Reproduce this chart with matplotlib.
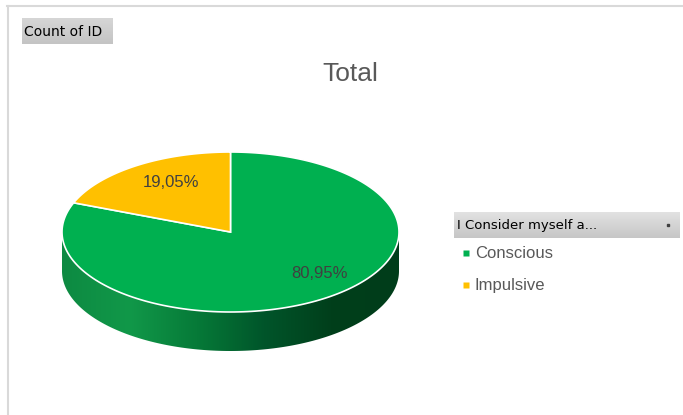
import numpy as np
import matplotlib.pyplot as plt
from matplotlib.patches import Polygon, Rectangle
from matplotlib.colors import LinearSegmentedColormap

# pivot data: count of ID by answer
categories = ["Conscious", "Impulsive"]
shares = [80.95, 19.05]
colors = ["#00B050", "#FFC000"]
value_labels = [f"{s:.2f}%".replace(".", ",") for s in shares]
label_pos = [(320, 273), (171, 182)]

plt.rcParams["font.family"] = ["Liberation Sans", "DejaVu Sans"]

fig = plt.figure(figsize=(6.83, 4.15), dpi=100)
ax = fig.add_axes([0, 0, 1, 1])

# ellipse geometry of the 3-D pie (pixels)
cx, cy, rx, ry, depth = 230.5, 232, 168.5, 80, 39


def rim(a0, a1, dy=0, n=200):
    t = np.radians(np.linspace(a0, a1, n))
    return np.column_stack([cx + rx * np.cos(t), cy + dy - ry * np.sin(t)])


# front wall with a left-to-right shading
wall = Polygon(np.vstack([rim(180, 360), rim(360, 180, dy=depth)]),
               closed=True, facecolor="none", edgecolor="none")
ax.add_patch(wall)
wall_cmap = LinearSegmentedColormap.from_list(
    "wall", ["#0d8a42", "#119849", "#067a38", "#00552a", "#003f1b", "#003d1a"])
im = ax.imshow(np.linspace(0, 1, 256)[None, :], cmap=wall_cmap,
               extent=[cx - rx, cx + rx, cy + ry + depth, cy],
               aspect="auto", zorder=1)
im.set_clip_path(wall)

# top face, slices running clockwise from 12 o'clock
a0 = 90
for share, col in zip(shares, colors):
    a1 = a0 - share * 3.6
    pts = np.vstack([[cx, cy], rim(a0, a1)])
    ax.add_patch(Polygon(pts, closed=True, facecolor=col, edgecolor="white",
                         linewidth=1.2, zorder=2))
    a0 = a1

for txt, (x, y) in zip(value_labels, label_pos):
    ax.text(x, y, txt, ha="center", va="center", fontsize=12,
            color="#404040", zorder=3)

ax.text(350, 74, "Total", ha="center", va="center", fontsize=19,
        color="#595959")

# chart area border
ax.plot([7, 683], [6, 6], color="#d9d9d9", lw=1.5)
ax.plot([7.5, 7.5], [6, 415], color="#d9d9d9", lw=1.5)


def gray_button(x0, y0, x1, y1, top="#e4e4e4", bottom="#c4c4c4"):
    box = Rectangle((x0, y0), x1 - x0, y1 - y0, facecolor="none",
                    edgecolor="none")
    ax.add_patch(box)
    g = ax.imshow(np.linspace(0, 1, 64)[:, None],
                  cmap=LinearSegmentedColormap.from_list("btn", [top, bottom]),
                  extent=[x0, x1, y1, y0], aspect="auto", zorder=1)
    g.set_clip_path(box)


# value field button
gray_button(22, 18, 113, 44, "#d6d6d6", "#c4c4c4")
ax.text(24, 31.5, "Count of ID", ha="left", va="center", fontsize=10,
        family="DejaVu Sans", color="black", zorder=3)

# legend with its field header
gray_button(454, 212, 680, 238, "#e2e2e2", "#c6c6c6")
ax.text(457, 225, "I Consider myself a...", ha="left", va="center",
        fontsize=9.5, family="DejaVu Sans", color="black", zorder=3)
ax.plot([668], [224.5], marker="s", ms=1.6, color="#404040", zorder=3)

for i, (name, col) in enumerate(zip(categories, colors)):
    y = 253 + i * 32
    ax.plot([466], [y], marker="s", ms=4, color=col, mec="none", zorder=3)
    ax.text(475, y, name, ha="left", va="center", fontsize=12,
            color="#595959", zorder=3)

ax.set_xlim(0, 683)
ax.set_ylim(415, 0)
ax.axis("off")

fig.savefig("out.png", dpi=100)
